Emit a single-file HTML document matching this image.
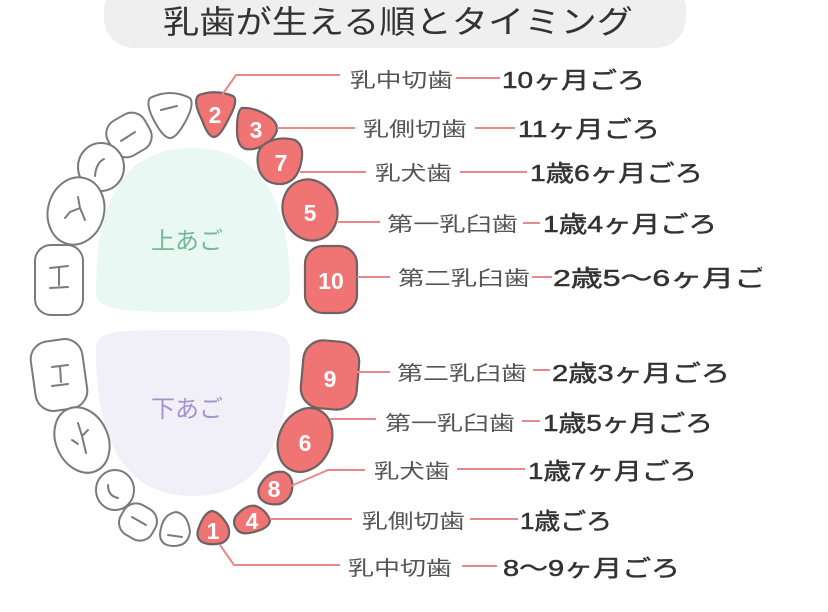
<!DOCTYPE html>
<html><head><meta charset="utf-8"><style>
html,body{margin:0;padding:0;background:#fff;width:828px;height:612px;overflow:hidden}
svg{display:block}
text{font-family:"Liberation Sans","Noto Sans CJK JP",sans-serif}
.n{font-size:20px;fill:#555}
.t{font-size:23px;fill:#333;stroke:#333;stroke-width:0.5}
.w{fill:#fff;stroke:#7a7a7a;stroke-width:2}
.p{fill:#f07474;stroke:#6e6262;stroke-width:2.2}
.d{font-size:23px;fill:#fff;font-weight:bold;text-anchor:middle}
.l{stroke:#e98888;stroke-width:2;fill:none}
.g{stroke:#7a7a7a;stroke-width:2;fill:none;stroke-linecap:round}
</style></head><body>
<svg width="828" height="612" viewBox="0 0 828 612">
<defs><clipPath id="c"><rect x="0" y="0" width="762" height="612"/></clipPath></defs>
<rect x="104" y="-20" width="582" height="68" rx="30" fill="#efefef"/>
<text x="163" y="33" font-size="32" fill="#333" textLength="470" lengthAdjust="spacingAndGlyphs">乳歯が生える順とタイミング</text>

<!-- palates -->
<path d="M96 290 C96 190 130 148 192 148 C254 148 290 190 290 290 C290 310 270 312 192 312 C114 312 96 310 96 290Z" fill="#e9f8f3"/>
<text x="151" y="249" font-size="24" fill="#74b898">上あご</text>
<path d="M96 350 C96 330 114 330 192 330 C270 330 290 330 290 350 C290 450 254 496 192 496 C130 496 96 450 96 350Z" fill="#f1eff8"/>
<text x="151" y="417" font-size="24" fill="#a294cc">下あご</text>

<!-- upper outline teeth -->
<path class="w" d="M150 98 Q170 88 190 98 Q195 105 184 124 Q176 138 170 138 Q164 138 156 124 Q145 105 150 98Z"/>
<path class="g" d="M161 110 L177 106"/>
<rect class="w" x="108" y="115" width="42" height="40" rx="15" transform="rotate(-30 129 135)"/>
<path class="g" d="M121 141 L135 132"/>
<ellipse class="w" cx="101" cy="167" rx="23" ry="24"/>
<path class="g" d="M95 176 Q96 163 104 159"/>
<ellipse class="w" cx="76" cy="211" rx="28" ry="34" transform="rotate(15 76 211)"/>
<path class="g" d="M70 212 L80 208 M80 208 L78 197 M80 208 L85 220 M70 212 L65 218"/>
<rect class="w" x="35" y="245" width="48" height="70" rx="16"/>
<path class="g" d="M50 268 L68 266 M59 267 L59 285 M50 288 L68 287"/>

<!-- upper pink teeth -->
<path class="p" d="M199 95 Q216 89 233 96 Q239 100 229 118 Q220 137 214 137 Q208 137 202 120 Q192 100 199 95Z"/>
<text class="d" x="215" y="123">2</text>
<path class="p" d="M242 108 Q256 107 271 118 Q283 128 271 140 Q258 151 246 149 Q237 147 237 130 Q237 110 242 108Z"/>
<text class="d" x="256" y="138">3</text>
<path class="p" d="M262 146 Q276 135 295 140 Q305 146 301 163 Q297 182 282 184 Q265 185 259 170 Q255 154 262 146Z"/>
<text class="d" x="281" y="171">7</text>
<ellipse class="p" cx="310" cy="210" rx="27" ry="31" transform="rotate(-20 310 210)"/>
<text class="d" x="310" y="221">5</text>
<rect class="p" x="305" y="246" width="52" height="67" rx="18"/>
<text class="d" x="331" y="289">10</text>

<!-- lower outline teeth -->
<rect class="w" x="33" y="340" width="52" height="70" rx="18" transform="rotate(-8 59 375)"/>
<path class="g" d="M52 367 L68 365 M60 366 L61 382 M52 386 L68 384"/>
<ellipse class="w" cx="82" cy="440" rx="26" ry="34" transform="rotate(-25 82 440)"/>
<path class="g" d="M78 423 L82 436 M88 430 L82 436 M82 436 L86 453 M72 440 L78 444"/>
<ellipse class="w" cx="115" cy="490" rx="19" ry="20"/>
<path class="g" d="M108 485 Q108 496 118 498"/>
<rect class="w" x="120" y="505" width="36" height="34" rx="14" transform="rotate(30 138 522)"/>
<path class="g" d="M132 517 L146 525"/>
<path class="w" d="M160 534 Q162 514 176 512 Q188 514 190 532 Q188 546 174 546 Q160 546 160 534Z"/>
<path class="g" d="M168 535 L182 537"/>

<!-- lower pink teeth -->
<rect class="p" x="302" y="341" width="56" height="68" rx="20" transform="rotate(5 330 375)"/>
<text class="d" x="330" y="387">9</text>
<ellipse class="p" cx="305" cy="440" rx="26" ry="33" transform="rotate(25 305 440)"/>
<text class="d" x="305" y="451">6</text>
<path class="p" d="M262 482 Q270 470 284 472 Q294 476 292 490 Q290 500 280 504 Q266 506 260 498 Q256 490 262 482Z"/>
<text class="d" x="274" y="497">8</text>
<path class="p" d="M236 516 Q246 504 256 506 Q266 510 270 520 Q270 528 254 532 Q240 536 236 528 Q232 522 236 516Z"/>
<text class="d" x="252" y="529">4</text>
<path class="p" d="M198 530 Q204 512 212 511 Q220 512 228 526 Q232 538 222 543 Q210 546 202 542 Q196 538 198 530Z"/>
<text class="d" x="213" y="539">1</text>

<!-- connectors -->
<path class="l" d="M222 95 L236 75 L340 75"/>
<path class="l" d="M277 128 L355 128"/>
<path class="l" d="M300 172 L366 172"/>
<path class="l" d="M338 222 L380 222"/>
<path class="l" d="M357 277 L390 277"/>
<path class="l" d="M357 372 L390 372"/>
<path class="l" d="M330 419 L376 419"/>
<path class="l" d="M291 486 L328 470 L365 470"/>
<path class="l" d="M270 519 L352 519"/>
<path class="l" d="M220 545 L234 565 L340 565"/>

<!-- label lines -->
<path class="l" d="M456 78 L500 78 M475 128 L515 128 M460 172 L527 172 M523 223 L540 223 M532 277 L552 277 M533 370 L550 370 M522 421 L540 421 M457 469 L525 469 M470 519 L518 519 M462 566 L497 566"/>

<!-- labels -->
<text class="n" x="350" y="87" textLength="103" lengthAdjust="spacingAndGlyphs">乳中切歯</text>
<text class="t" x="502" y="88" textLength="143" lengthAdjust="spacingAndGlyphs">10ヶ月ごろ</text>
<text class="n" x="363" y="136" textLength="104" lengthAdjust="spacingAndGlyphs">乳側切歯</text>
<text class="t" x="518" y="137" textLength="142" lengthAdjust="spacingAndGlyphs">11ヶ月ごろ</text>
<text class="n" x="375" y="180" textLength="77" lengthAdjust="spacingAndGlyphs">乳犬歯</text>
<text class="t" x="530" y="181" textLength="173" lengthAdjust="spacingAndGlyphs">1歳6ヶ月ごろ</text>
<text class="n" x="387" y="231" textLength="131" lengthAdjust="spacingAndGlyphs">第一乳臼歯</text>
<text class="t" x="543" y="232" textLength="174" lengthAdjust="spacingAndGlyphs">1歳4ヶ月ごろ</text>
<text class="n" x="398" y="285" textLength="132" lengthAdjust="spacingAndGlyphs">第二乳臼歯</text>
<text class="t" x="553" y="286" textLength="245" lengthAdjust="spacingAndGlyphs" clip-path="url(#c)">2歳5～6ヶ月ごろ</text>
<text class="n" x="397" y="380" textLength="130" lengthAdjust="spacingAndGlyphs">第二乳臼歯</text>
<text class="t" x="552" y="381" textLength="178" lengthAdjust="spacingAndGlyphs">2歳3ヶ月ごろ</text>
<text class="n" x="385" y="430" textLength="130" lengthAdjust="spacingAndGlyphs">第一乳臼歯</text>
<text class="t" x="543" y="431" textLength="170" lengthAdjust="spacingAndGlyphs">1歳5ヶ月ごろ</text>
<text class="n" x="374" y="478" textLength="76" lengthAdjust="spacingAndGlyphs">乳犬歯</text>
<text class="t" x="528" y="479" textLength="169" lengthAdjust="spacingAndGlyphs">1歳7ヶ月ごろ</text>
<text class="n" x="362" y="528" textLength="103" lengthAdjust="spacingAndGlyphs">乳側切歯</text>
<text class="t" x="520" y="529" textLength="92" lengthAdjust="spacingAndGlyphs">1歳ごろ</text>
<text class="n" x="348" y="575" textLength="104" lengthAdjust="spacingAndGlyphs">乳中切歯</text>
<text class="t" x="503" y="576" textLength="177" lengthAdjust="spacingAndGlyphs">8～9ヶ月ごろ</text>
</svg>
</body></html>
